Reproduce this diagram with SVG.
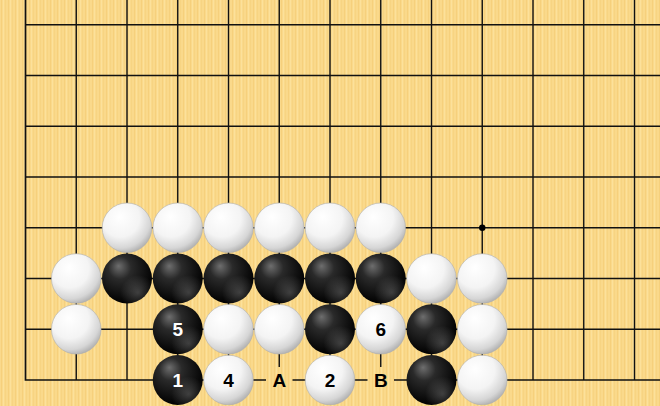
<svg xmlns="http://www.w3.org/2000/svg" width="660" height="406" viewBox="0 0 660 406">
<defs>
<pattern id="wood" patternUnits="userSpaceOnUse" x="0" y="0" width="7" height="10">
<rect width="7" height="10" fill="#FAD98B"/>
<rect x="1" width="1" height="10" fill="#F6D07C"/>
<rect x="3" width="1" height="10" fill="#FCE19B"/>
<rect x="5" width="1" height="10" fill="#F7D482"/>
</pattern>
<radialGradient id="gw" cx="0.38" cy="0.32" r="0.7" fx="0.35" fy="0.28">
<stop offset="0" stop-color="#FFFFFF"/>
<stop offset="0.55" stop-color="#F4F4F4"/>
<stop offset="0.85" stop-color="#D6D6D6"/>
<stop offset="1" stop-color="#B4B4B4"/>
</radialGradient>
<radialGradient id="gb" cx="0.4" cy="0.35" r="0.65" fx="0.33" fy="0.25">
<stop offset="0" stop-color="#6E6E6E"/>
<stop offset="0.35" stop-color="#2A2A2A"/>
<stop offset="1" stop-color="#000000"/>
</radialGradient>
<radialGradient id="gbr" cx="0.72" cy="0.78" r="0.35">
<stop offset="0" stop-color="#FFFFFF" stop-opacity="0.22"/>
<stop offset="1" stop-color="#FFFFFF" stop-opacity="0"/>
</radialGradient>
<style>
.ln{stroke:#111;stroke-width:1.4;fill:none}
.edge{stroke:#111;stroke-width:1.7;fill:none}
.w{fill:url(#gw);stroke:#AFAFAF;stroke-width:0.6}
.b{fill:url(#gb)}
.br{fill:url(#gbr)}
.t{font-family:"Liberation Sans",Arial,sans-serif;font-weight:bold;font-size:19px;text-anchor:middle}
.tw{fill:#FFFFFF}
.tb{fill:#000000}
.bg{fill:url(#wood)}
</style>
</defs>
<rect width="660" height="406" fill="url(#wood)"/>
<g id="grid">
<path class="ln" d="M76.25 0V380M127 0V380M177.75 0V380M228.5 0V380M279.25 0V380M330 0V380M380.75 0V380M431.5 0V380M482.25 0V380M533 0V380M583.75 0V380M634.5 0V380"/>
<path class="ln" d="M25.5 24.75H660M25.5 75.5H660M25.5 126.25H660M25.5 177H660M25.5 227.75H660M25.5 278.5H660M25.5 329.25H660"/>
<path class="edge" d="M25.5 0V380H660"/>
<circle cx="482.25" cy="227.75" r="3.2" fill="#000"/>
</g>
<g id="connectors"></g>
<g id="w-c2r3"><circle class="w" cx="127" cy="227.75" r="24.8"/></g>
<g id="w-c3r3"><circle class="w" cx="177.75" cy="227.75" r="24.8"/></g>
<g id="w-c4r3"><circle class="w" cx="228.5" cy="227.75" r="24.8"/></g>
<g id="w-c5r3"><circle class="w" cx="279.25" cy="227.75" r="24.8"/></g>
<g id="w-c6r3"><circle class="w" cx="330" cy="227.75" r="24.8"/></g>
<g id="w-c7r3"><circle class="w" cx="380.75" cy="227.75" r="24.8"/></g>
<g id="w-c1r2"><circle class="w" cx="76.25" cy="278.5" r="24.8"/></g>
<g id="b-c2r2"><circle class="b" cx="127" cy="278.5" r="25"/><circle class="br" cx="127" cy="278.5" r="25"/></g>
<g id="b-c3r2"><circle class="b" cx="177.75" cy="278.5" r="25"/><circle class="br" cx="177.75" cy="278.5" r="25"/></g>
<g id="b-c4r2"><circle class="b" cx="228.5" cy="278.5" r="25"/><circle class="br" cx="228.5" cy="278.5" r="25"/></g>
<g id="b-c5r2"><circle class="b" cx="279.25" cy="278.5" r="25"/><circle class="br" cx="279.25" cy="278.5" r="25"/></g>
<g id="b-c6r2"><circle class="b" cx="330" cy="278.5" r="25"/><circle class="br" cx="330" cy="278.5" r="25"/></g>
<g id="b-c7r2"><circle class="b" cx="380.75" cy="278.5" r="25"/><circle class="br" cx="380.75" cy="278.5" r="25"/></g>
<g id="w-c8r2"><circle class="w" cx="431.5" cy="278.5" r="24.8"/></g>
<g id="w-c9r2"><circle class="w" cx="482.25" cy="278.5" r="24.8"/></g>
<g id="w-c1r1"><circle class="w" cx="76.25" cy="329.25" r="24.8"/></g>
<g id="b-c3r1-5"><circle class="b" cx="177.75" cy="329.25" r="25"/><circle class="br" cx="177.75" cy="329.25" r="25"/><text class="t tw" x="177.75" y="336.2">5</text></g>
<g id="w-c4r1"><circle class="w" cx="228.5" cy="329.25" r="24.8"/></g>
<g id="w-c5r1"><circle class="w" cx="279.25" cy="329.25" r="24.8"/></g>
<g id="b-c6r1"><circle class="b" cx="330" cy="329.25" r="25"/><circle class="br" cx="330" cy="329.25" r="25"/></g>
<g id="w-c7r1-6"><circle class="w" cx="380.75" cy="329.25" r="24.8"/><text class="t tb" x="380.75" y="336.2">6</text></g>
<g id="b-c8r1"><circle class="b" cx="431.5" cy="329.25" r="25"/><circle class="br" cx="431.5" cy="329.25" r="25"/></g>
<g id="w-c9r1"><circle class="w" cx="482.25" cy="329.25" r="24.8"/></g>
<g id="b-c3r0-1"><circle class="b" cx="177.75" cy="380" r="25"/><circle class="br" cx="177.75" cy="380" r="25"/><text class="t tw" x="177.75" y="387">1</text></g>
<g id="w-c4r0-4"><circle class="w" cx="228.5" cy="380" r="24.8"/><text class="t tb" x="228.5" y="387">4</text></g>
<g id="label-A"><rect class="bg" x="266" y="367" width="26.5" height="26.5"/><text class="t tb" x="279.25" y="387">A</text></g>
<g id="w-c6r0-2"><circle class="w" cx="330" cy="380" r="24.8"/><text class="t tb" x="330" y="387">2</text></g>
<g id="label-B"><rect class="bg" x="367.5" y="367" width="26.5" height="26.5"/><text class="t tb" x="380.75" y="387">B</text></g>
<g id="b-c8r0"><circle class="b" cx="431.5" cy="380" r="25"/><circle class="br" cx="431.5" cy="380" r="25"/></g>
<g id="w-c9r0"><circle class="w" cx="482.25" cy="380" r="24.8"/></g>
</svg>
